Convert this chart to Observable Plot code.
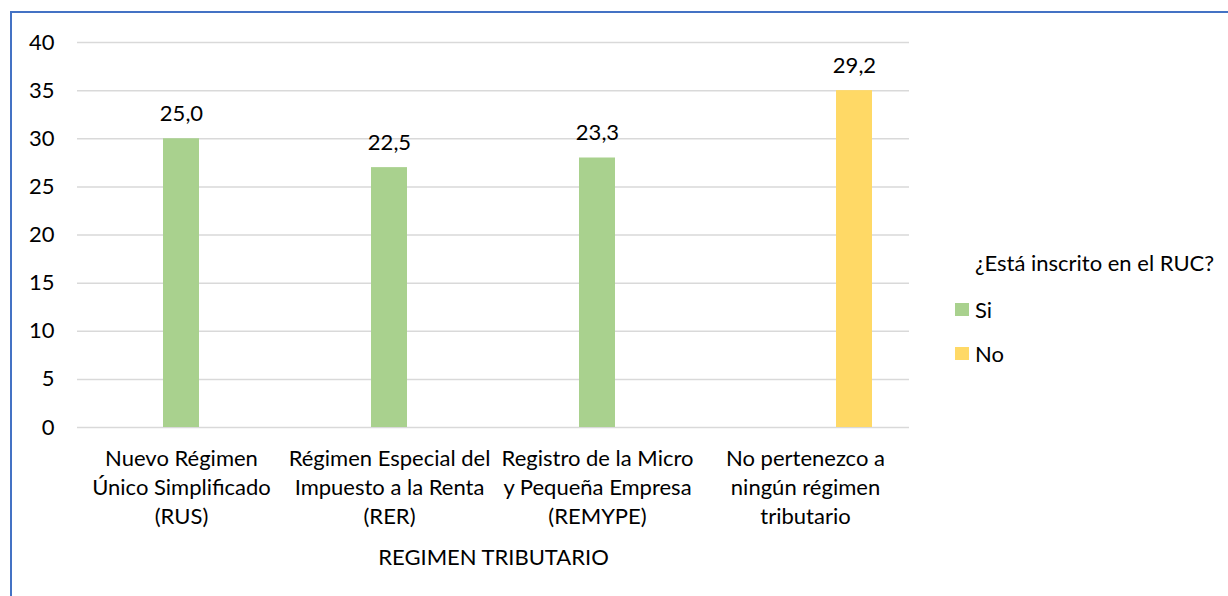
<!DOCTYPE html>
<html><head><meta charset="utf-8">
<script src="https://cdn.jsdelivr.net/npm/d3@7"></script>
<script src="https://cdn.jsdelivr.net/npm/@observablehq/plot@0.6"></script>
<style>
body{margin:0;background:#fff;}
#wrap{position:relative;width:1228px;height:596px;overflow:hidden;font-family:Lato,"Open Sans",sans-serif;color:#000;}
#frame{position:absolute;left:10px;top:11px;width:1300px;height:700px;border-left:2px solid #4472C4;border-top:2px solid #4472C4;box-sizing:border-box;}
#chart{position:absolute;left:0;top:0;}
#legend{position:absolute;left:955px;top:247px;font-size:22px;}
#legend .title{margin-left:20px;height:32px;line-height:32px;margin-bottom:8px;}
#legend .item{display:flex;align-items:center;height:44px;}
#legend .sw{width:14px;height:13px;margin-right:6px;}
</style></head>
<body>
<div id="wrap"><div id="frame"></div><div id="chart"></div><div id="legend"></div></div>
<script>
const categories = [
  "Nuevo Régimen\nÚnico Simplificado\n(RUS)",
  "Régimen Especial del\nImpuesto a la Renta\n(RER)",
  "Registro de la Micro\ny Pequeña Empresa\n(REMYPE)",
  "No pertenezco a\nningún régimen\ntributario"
];
const series = ["Si", "Si", "Si", "No"];
const values = [30, 27, 28, 35];
const labels = ["25,0", "22,5", "23,3", "29,2"];
const yTicks = [0, 5, 10, 15, 20, 25, 30, 35, 40];
const seriesNames = ["Si", "No"];
const seriesColors = ["#A9D18E", "#FFD966"];
const legendTitle = "¿Está inscrito en el RUC?";
const xTitle = "REGIMEN TRIBUTARIO";

const data = categories.map((c, i) => ({category: c, series: series[i], value: values[i], label: labels[i]}));

const chart = Plot.plot({
  width: 1228, height: 596,
  marginLeft: 75, marginRight: 318, marginTop: 42, marginBottom: 169,
  style: {fontFamily: "Lato, 'Open Sans', sans-serif", fontSize: "22px", color: "#000", background: "transparent", overflow: "visible"},
  fx: {domain: categories, padding: 0},
  x: {domain: seriesNames, paddingInner: 0.26, paddingOuter: 1.2175, align: 0.70, axis: null},
  y: {domain: [0, 40]},
  color: {domain: seriesNames, range: seriesColors},
  marks: [
    Plot.gridY(yTicks, {stroke: "#d9d9d9", strokeOpacity: 1, strokeWidth: 1.5}),
    Plot.axisY(yTicks, {tickSize: 0, tickPadding: 23, label: null}),
    Plot.axisFx({anchor: "bottom", tickSize: 0, tickPadding: 18, lineHeight: 1.32, label: xTitle, labelAnchor: "center", labelOffset: 137}),
    Plot.barY(data, {fx: "category", x: "series", y: "value", fill: "series"}),
    Plot.text(data, {fx: "category", x: "series", y: "value", text: "label", dy: -25})
  ]
});
document.getElementById("chart").appendChild(chart);

const lg = document.getElementById("legend");
const t = document.createElement("div"); t.className = "title"; t.textContent = legendTitle; lg.appendChild(t);
seriesNames.forEach((s, i) => {
  const it = document.createElement("div"); it.className = "item";
  const sw = document.createElement("div"); sw.className = "sw"; sw.style.background = seriesColors[i];
  const tx = document.createElement("span"); tx.textContent = s;
  it.appendChild(sw); it.appendChild(tx); lg.appendChild(it);
});
</script>
</body></html>
